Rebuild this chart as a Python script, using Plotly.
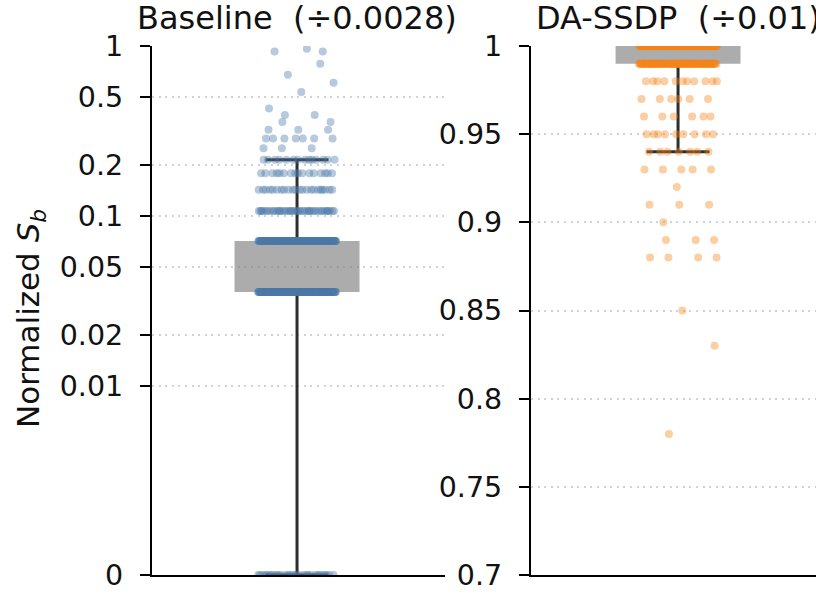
import numpy as np
import plotly.graph_objects as go

# ---------------- data ----------------
# Baseline (÷0.0028): values are multiples of 1/28
baseline_steps = [0, 1, 2, 3, 4, 5, 6, 7, 8, 9, 10, 11, 12, 15, 17, 19, 22, 26, 27]
baseline_counts = [30, 160, 150, 40, 22, 16, 14, 3, 7, 3, 2, 2, 1, 1, 1, 1, 1, 2, 1]
baseline_denominator = 28

# DA-SSDP (÷0.01)
dassdp_levels = [1.00, 0.99, 0.98, 0.97, 0.96, 0.95, 0.94, 0.93, 0.92, 0.91,
                 0.90, 0.89, 0.88, 0.85, 0.83, 0.78]
dassdp_counts = [200, 120, 11, 6, 6, 9, 7, 5, 1, 3, 1, 3, 4, 1, 1, 1]

# box statistics: [Baseline, DA-SSDP]
box_q1 = [1 / 28, 0.99]
box_q3 = [2 / 28, 1.00]
whisker_lo = [0.0, 0.94]
whisker_hi = [6 / 28, 1.00]

panel_titles = ["Baseline\u00a0 (÷0.0028)", "DA-SSDP\u00a0 (÷0.01)"]
left_tick_values = [0, 0.01, 0.02, 0.05, 0.1, 0.2, 0.5, 1]
left_tick_text = ["0", "0.01", "0.02", "0.05", "0.1", "0.2", "0.5", "1"]
right_tick_values = [0.7, 0.75, 0.8, 0.85, 0.9, 0.95, 1.0]
right_tick_text = ["0.7", "0.75", "0.8", "0.85", "0.9", "0.95", "1"]

# ---------------- helpers ----------------
LINTHRESH = 0.01
LINSCALE = 1.0


def symlog(v):
    v = np.asarray(v, dtype=float)
    a = np.abs(v)
    c = LINSCALE / (1 - 1 / 10)
    out = np.where(a <= LINTHRESH, a / LINTHRESH * c,
                   c + np.log10(np.maximum(a, LINTHRESH) / LINTHRESH))
    return np.sign(v) * out


JITTER = 0.133
GOLDEN = 0.6180339887


def expand(levels, counts):
    """Deterministic strip-plot jitter (horizontal positions only)."""
    ys, xs = [], []
    for k, (lv, n) in enumerate(zip(levels, counts)):
        phase = (k * 0.41421356 + 0.17) % 1.0
        for i in range(n):
            u = (i * GOLDEN + phase) % 1.0
            xs.append((u - 0.5) * 2 * JITTER)
            ys.append(lv)
    return np.array(xs), np.array(ys)


BOX_W = 0.4266
CAP_HALF = 0.1075
BLUE = "#4c78a8"
ORANGE = "#f58518"
BOX_FILL = "rgba(128,128,128,0.65)"
WHISK = "#2e2e2e"
FONT = "DejaVu Sans"

base_vals = [s / baseline_denominator for s in baseline_steps]
bx, by = expand(base_vals, baseline_counts)
dx, dy = expand(dassdp_levels, dassdp_counts)

transforms = [symlog, lambda v: np.asarray(v, dtype=float)]
points = [(bx, by, BLUE), (dx, dy, ORANGE)]

fig = go.Figure()
for p in range(2):
    T = transforms[p]
    xa = "x" if p == 0 else "x2"
    ya = "y" if p == 0 else "y2"
    q1, q3 = float(T(box_q1[p])), float(T(box_q3[p]))
    lo, hi = float(T(whisker_lo[p])), float(T(whisker_hi[p]))
    fig.add_trace(go.Bar(x=[0], base=[q1], y=[q3 - q1], width=BOX_W,
                         marker=dict(color=BOX_FILL, line=dict(width=0)),
                         xaxis=xa, yaxis=ya, hoverinfo="skip"))
    line = dict(color=WHISK, width=3)
    fig.add_trace(go.Scatter(x=[0, 0], y=[q3, hi], mode="lines", line=line,
                             xaxis=xa, yaxis=ya))
    fig.add_trace(go.Scatter(x=[0, 0], y=[lo, q1], mode="lines", line=line,
                             xaxis=xa, yaxis=ya))
    for yy in (lo, hi):
        fig.add_trace(go.Scatter(x=[-CAP_HALF, CAP_HALF], y=[yy, yy], mode="lines",
                                 line=line, xaxis=xa, yaxis=ya))
    px, py, col = points[p]
    fig.add_trace(go.Scatter(x=px, y=T(py), mode="markers",
                             marker=dict(size=8, color=col, opacity=0.4,
                                         line=dict(width=0)),
                             xaxis=xa, yaxis=ya))

W, H = 816, 594
common_x = dict(showline=True, linecolor="black", linewidth=2.2, ticks="",
                showticklabels=False, showgrid=False, zeroline=False)
common_y = dict(showline=True, linecolor="black", linewidth=2.2, ticks="outside",
                ticklen=10, tickwidth=2.2, tickcolor="black",
                showgrid=True, gridcolor="#d2d2d2", gridwidth=1.8, griddash="2px,4.6px",
                zeroline=False, tickfont=dict(size=28.5, color="#111", family=FONT),
                ticklabelstandoff=11)

fig.update_layout(
    width=W, height=H,
    margin=dict(l=0, r=0, t=46, b=19, pad=0),
    paper_bgcolor="white", plot_bgcolor="white",
    showlegend=False, barmode="overlay",
    font=dict(family=FONT, color="#111"),
    xaxis=dict(domain=[152 / W, 445 / W], range=[-0.495, 0.505], **common_x),
    xaxis2=dict(domain=[531 / W, 1.0], range=[-0.502, 0.471], anchor="y2", **common_x),
    yaxis=dict(domain=[0, 1], range=[0, float(symlog(1.0))], anchor="x",
               tickmode="array", tickvals=list(symlog(left_tick_values)),
               ticktext=left_tick_text, **common_y),
    yaxis2=dict(domain=[0, 1], range=[0.7, 1.0], anchor="x2",
                tickmode="array", tickvals=right_tick_values,
                ticktext=right_tick_text, **common_y),
)

for p, xr in enumerate(["x", "x2"]):
    fig.add_annotation(text=panel_titles[p], x=0, xref=xr, xanchor="center",
                       y=1, yref="paper", yanchor="bottom", yshift=7,
                       showarrow=False, font=dict(size=32, family=FONT, color="#111"))

fig.add_annotation(text="Normalized <i>S</i><sub><i>b</i></sub>", textangle=-90,
                   x=30 / W, xref="paper", xanchor="center",
                   y=(575 - 319) / 529, yref="paper", yanchor="middle",
                   showarrow=False, font=dict(size=31, family=FONT, color="#111"))

fig.write_html("out.html",
               config={"displayModeBar": False},
               post_script="document.body.style.margin='0';document.body.style.overflow='hidden';")
